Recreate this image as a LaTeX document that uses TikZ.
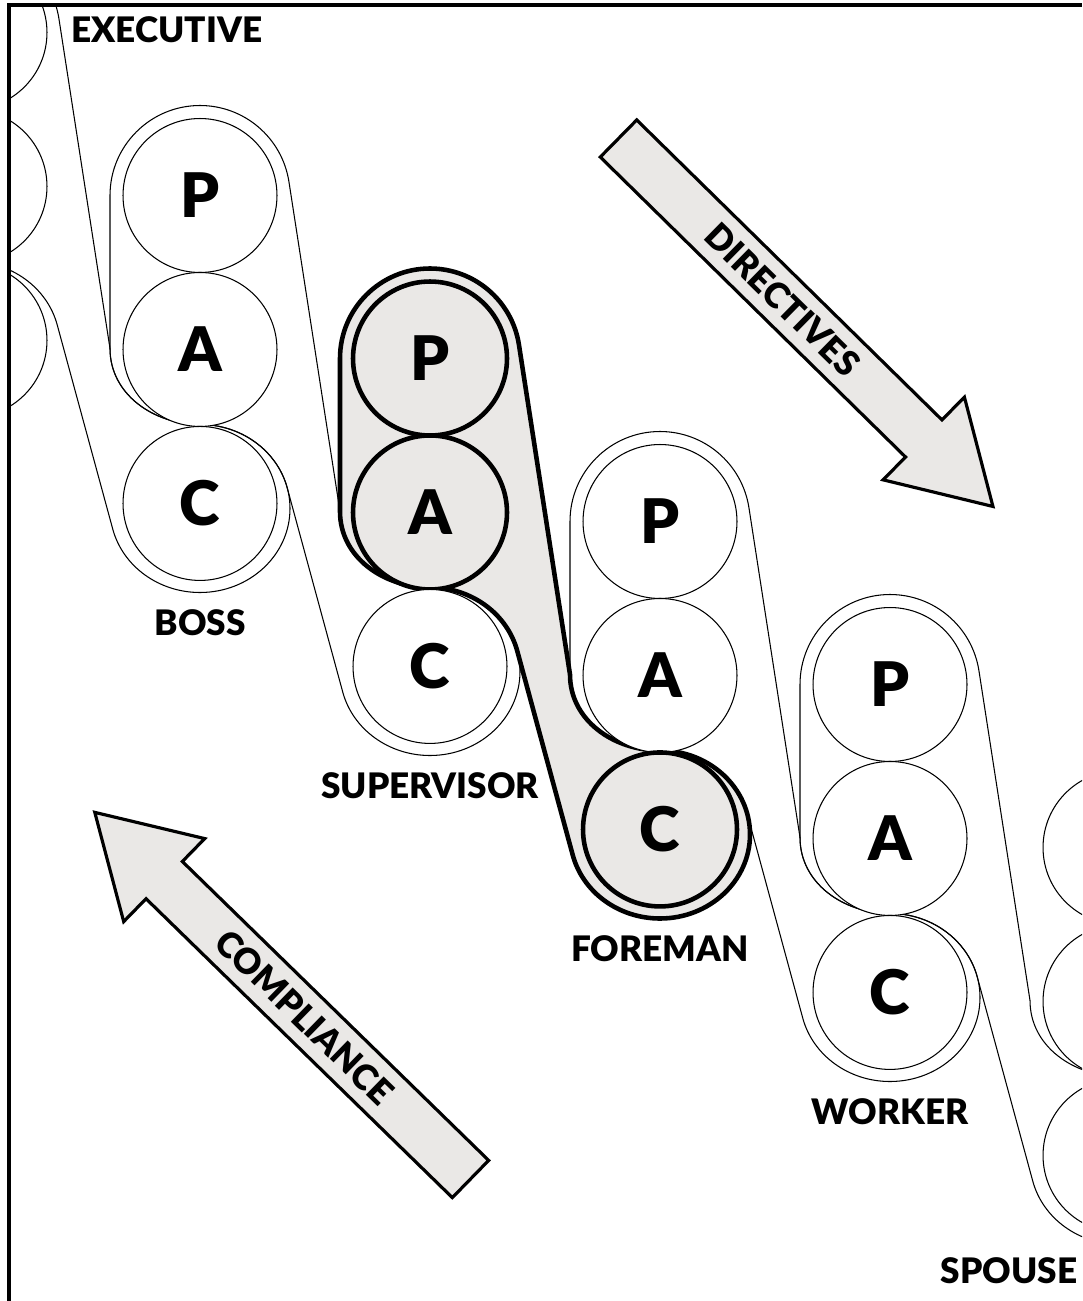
\documentclass[tikz,border=0pt]{standalone}
\usepackage{fontspec}
\setmainfont{Lato}[BoldFont={* Black}]
\usepackage{tikz}
\usetikzlibrary{positioning,calc}
\definecolor{stipple}{RGB}{234,232,230}

\begin{document}
\begin{tikzpicture}[
  x=0.02cm,y=0.02cm,
  node distance=0pt,
  pac/.style={circle,draw,line width=0.6pt,fill=white,minimum size=3.08cm,inner sep=0pt,outer sep=0pt,font=\fontsize{35}{35}\selectfont\bfseries},
  hot/.style={pac,line width=2.6pt,fill=stipple},
  who/.style={inner sep=0pt,font=\fontsize{20}{20}\selectfont\bfseries},
  hull/.style={draw,line width=0.6pt},
  grayhull/.style={draw,line width=2.6pt,fill=stipple,line join=round},
  bigarrow/.style={draw,line width=1.8pt,fill=stipple},
  frame/.style={line width=2pt}
]
\useasboundingbox (0,0) rectangle (1082,-1301);
\begin{scope}
\clip (9,-5) rectangle (1082,-1301);
% stack anchors (centre of each P)
\foreach \who/\px/\py in {exec/-30/-32.5,boss/200/-195.5,sup/430/-358.5,fore/660/-521.5,work/890/-684.5,spouse/1120/-847.5}
  \coordinate (\who) at (\px,\py);
% hulls: P and A of one person, C of the next
\foreach \from/\sty in {exec/hull,boss/hull,fore/hull,work/hull,sup/grayhull}
  \path[\sty,shift={(\from)}] (-90,-153) -- (-90,0)
    arc[start angle=180,end angle=8.81,radius=90] -- (140,-316)
    to[out=-90,in=180] (230,-392)
    arc[start angle=90,end angle=-165.76,x radius=90,y radius=84] -- (87.2,-292.3)
    arc[start angle=14.24,end angle=90,x radius=90,y radius=84]
    to[out=180,in=-90] (-90,-153) -- cycle;
% ego states (the letters of the two cut stacks lie off the page)
\foreach \who/\sp/\sa/\sc/\lp/\la/\lc in {exec/pac/pac/pac///,boss/pac/pac/pac/P/A/C,sup/hot/hot/pac/P/A/C,fore/pac/pac/hot/P/A/C,work/pac/pac/pac/P/A/C,spouse/pac/pac/pac///}{
  \node[\sp] (\who P) at (\who) {\lp};
  \node[\sa,below=of \who P] (\who A) {\la};
  \node[\sc,below=of \who A] (\who C) {\lc};
}
% names
\node[who,anchor=west] (execName) at (71,-30) {EXECUTIVE};
\foreach \who/\txt in {boss/BOSS,sup/SUPERVISOR,fore/FOREMAN,work/WORKER}
  \node[who,below=0.57cm of \who C] (\who Name) {\txt};
\node[who] (spouseName) at (1009,-1271) {SPOUSE};
% big arrows
\begin{scope}[shift={(618.5,-138.5)},rotate=-44.5]
  \draw[bigarrow] (0,26) -- (428,26) -- (428,58) -- (525,0) -- (428,-58) -- (428,-26) -- (0,-26) -- cycle;
  \node[who,rotate=-44.5] (directives) at (230,0) {DIRECTIVES};
\end{scope}
\begin{scope}[shift={(470.5,-1179)},rotate=135.7]
  \draw[bigarrow] (0,26) -- (428,26) -- (428,58) -- (525,0) -- (428,-58) -- (428,-26) -- (0,-26) -- cycle;
  \node[who,rotate=-44.3] (compliance) at (232,0) {COMPLIANCE};
\end{scope}
\end{scope}
\draw[frame] (9,-1301) -- (9,-5) -- (1082,-5);
\end{tikzpicture}
\end{document}
